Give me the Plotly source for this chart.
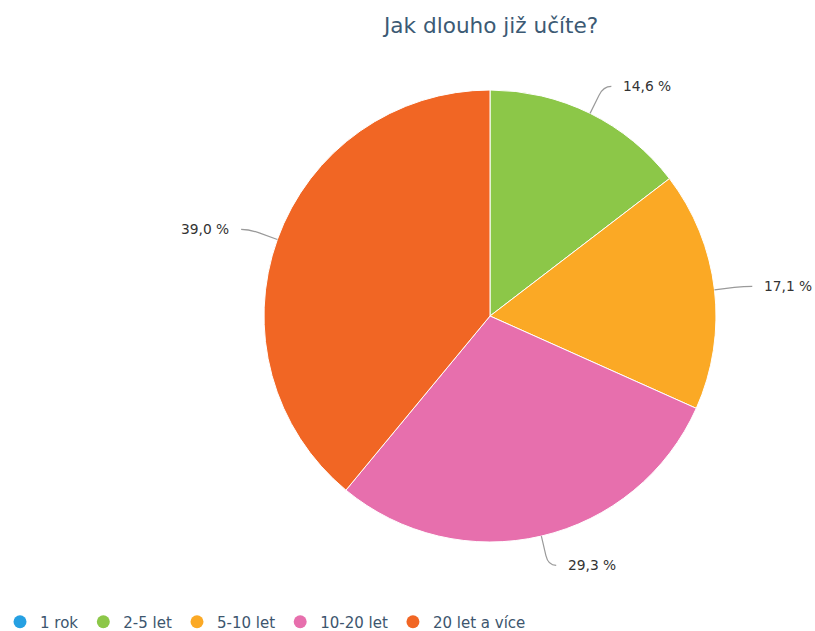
import math
import plotly.graph_objects as go

categories = ["1 rok", "2-5 let", "5-10 let", "10-20 let", "20 let a více"]
values = [0.0, 14.6, 17.1, 29.3, 39.0]
colors = ["#26a0e2", "#8cc748", "#fba925", "#e76fad", "#f16624"]
title_text = "Jak dlouho již učíte?"

W, H = 815, 631
cx, cy, R = 490, 316, 226

fig = go.Figure()

fig.add_trace(go.Pie(
    labels=categories, values=values, sort=False, direction="clockwise",
    rotation=0, textinfo="none", hoverinfo="label+percent",
    marker=dict(colors=colors, line=dict(color="white", width=1)),
    domain=dict(x=[(cx - R) / W, (cx + R) / W], y=[(H - cy - R) / H, (H - cy + R) / H]),
    showlegend=False,
))

for name, col in zip(categories, colors):
    fig.add_trace(go.Scatter(x=[None], y=[None], mode="markers", name=name,
                             marker=dict(color=col, size=13, symbol="circle"),
                             showlegend=True, hoverinfo="skip"))

total = sum(values)
shapes, annotations = [], []
cum = 0.0
for v in values:
    if v <= 0:
        continue
    mid = (cum + v / 2) / total * 2 * math.pi
    cum += v
    s, c = math.sin(mid), math.cos(mid)
    x0, y0 = cx + R * s, cy - R * c
    x1, y1 = cx + (R + 20) * s, cy - (R + 20) * c
    ex, ey = cx + (R + 30) * s, cy - (R + 30) * c
    side = 1 if s >= 0 else -1
    hx = ex + side * 8
    shapes.append(dict(type="path", xref="x", yref="y",
                       path=f"M {x0},{y0} L {x1},{y1} Q {ex},{ey} {hx},{ey}",
                       line=dict(color="#9a9a9a", width=1.2), layer="above"))
    annotations.append(dict(x=hx + side * 10, y=ey, xref="x", yref="y",
                            text=f"{v:.1f} %".replace(".", ","), showarrow=False,
                            xanchor="left" if side > 0 else "right", yanchor="middle",
                            font=dict(family="DejaVu Sans", size=13.8, color="#333333")))

annotations.append(dict(x=cx, y=25, xref="x", yref="y", text=title_text,
                        showarrow=False, xanchor="center", yanchor="middle",
                        font=dict(family="DejaVu Sans", size=21.6, color="#3c5a74")))

fig.update_layout(
    width=W, height=H, margin=dict(l=0, r=0, t=0, b=0, autoexpand=False),
    paper_bgcolor="white", plot_bgcolor="rgba(0,0,0,0)",
    xaxis=dict(range=[0, W], visible=False, fixedrange=True),
    yaxis=dict(range=[H, 0], visible=False, fixedrange=True),
    shapes=shapes, annotations=annotations,
    legend=dict(orientation="h", x=-0.003, y=9 / H, xanchor="left", yanchor="middle",
                xref="container", yref="container",
                font=dict(family="DejaVu Sans", size=15, color="#3d566e"),
                bgcolor="rgba(0,0,0,0)"),
)

fig.write_html("out.html", config={"displayModeBar": False},
               post_script="document.body.style.margin='0';document.body.style.overflow='hidden';")
